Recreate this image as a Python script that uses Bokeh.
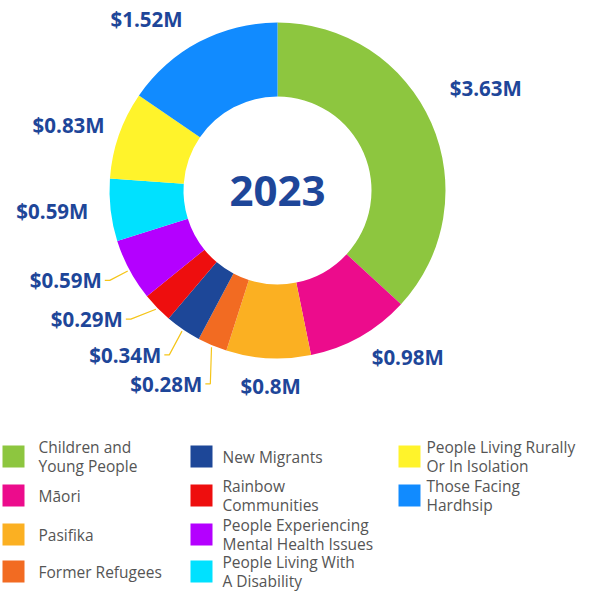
import numpy as np
from bokeh.plotting import figure
from bokeh.models import Range1d, ColumnDataSource
from bokeh.core.properties import value
from bokeh.embed import file_html
from bokeh.resources import INLINE

# ---- data ----
categories = ["Children and\nYoung People", "Māori", "Pasifika", "Former Refugees",
              "New Migrants", "Rainbow\nCommunities", "People Experiencing\nMental Health Issues",
              "People Living With\nA Disability", "People Living Rurally\nOr In Isolation",
              "Those Facing\nHardhsip"]
amounts = [3.63, 0.98, 0.80, 0.28, 0.34, 0.29, 0.59, 0.59, 0.83, 1.52]
value_labels = ["$3.63M", "$0.98M", "$0.8M", "$0.28M", "$0.34M", "$0.29M",
                "$0.59M", "$0.59M", "$0.83M", "$1.52M"]
year_label = "2023"

# ---- style / layout ----
colors = ["#8dc63f", "#ec0c8c", "#fbb022", "#f26b22", "#1d4798",
          "#ee0e0e", "#b400ff", "#00e1ff", "#fff32b", "#118bff"]
label_angle_deg = [63.9, 141.9, 182.0, 209.9, 222.8, 236.0, 247.0, 264.9, 287.5, 322.7]
label_radius = [232, 211, 196, 223, 224, 230, 230, 226, 219, 216]
has_leader = [False, False, False, True, True, True, True, False, False, False]

W, H = 576, 593
def X(x): return x
def Y(y): return H - y

cx, cy = X(277), Y(190)
r_out, r_in = 168, 94
label_color = "#1e4699"
font = value("Open Sans")

p = figure(width=W, height=H, output_backend="svg", toolbar_location=None,
           x_range=Range1d(0, W), y_range=Range1d(0, H), min_border=0)
p.axis.visible = False
p.grid.visible = False
p.outline_line_color = None

# wedges: clockwise from top
vals = np.array(amounts)
frac = vals / vals.sum()
cum = np.concatenate([[0], np.cumsum(frac)]) * 2 * np.pi
start = np.pi / 2 - cum[:-1]
end = np.pi / 2 - cum[1:]
src = ColumnDataSource(dict(start=start, end=end, color=colors))
p.annular_wedge(x=cx, y=cy, inner_radius=r_in, outer_radius=r_out,
                start_angle="start", end_angle="end", direction="clock",
                fill_color="color", line_color=None, source=src)

# value labels
la = np.radians(label_angle_deg)
lr = np.array(label_radius)
lx = cx + lr * np.sin(la)
ly = cy + lr * np.cos(la)
p.text(x=lx, y=ly, text=value_labels, text_font=font, text_font_style="bold",
       text_font_size="20.5px", text_color=label_color, text_align="center",
       text_baseline="middle")

# leader lines
mid = (cum[:-1] + cum[1:]) / 2
xs, ys = [], []
for i in range(len(amounts)):
    if has_leader[i]:
        ex = cx + (r_out + 2) * np.sin(mid[i])
        ey = cy + (r_out + 2) * np.cos(mid[i])
        tx = lx[i] + 39
        xs.append([tx, tx + 5, ex])
        ys.append([ly[i], ly[i], ey])
p.multi_line(xs=xs, ys=ys, line_color="#f5c518", line_width=1.2)

# centre year
p.text(x=[cx], y=[cy], text=[year_label], text_font=font, text_font_style="bold",
       text_font_size="42px", text_color=label_color, text_align="center",
       text_baseline="middle")

# legend grid
col_x = [2, 190, 398]
col_tx = [38, 222, 426]
row_y = [456, 495, 534, 571]
sq = 22
for i, cat in enumerate(categories):
    c, r = i // 4, i % 4
    p.rect(x=[X(col_x[c] + sq / 2)], y=[Y(row_y[r])], width=sq, height=sq,
           fill_color=colors[i], line_color=None)
    p.text(x=[X(col_tx[c])], y=[Y(row_y[r])], text=[cat], text_font=font,
           text_font_size="15.5px", text_color="#555555", text_align="left",
           text_baseline="middle", text_line_height=0.9)

open("out.html", "w").write(file_html(p, INLINE))
